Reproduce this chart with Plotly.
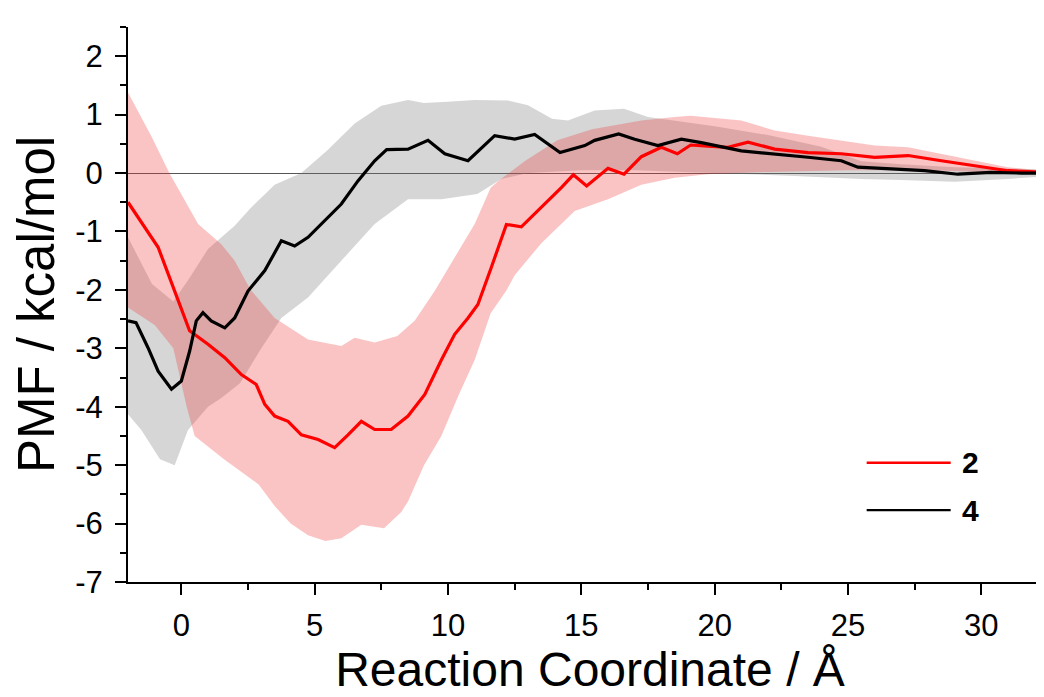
import plotly.graph_objects as go

# ---- data ----
# series "2" (red) mean PMF
x2 = [-2.0, -1.5, -0.87, -0.25, 0.31, 1.0, 1.63, 2.25, 2.81, 3.13, 3.5, 4.0, 4.5, 5.13, 5.75, 6.25,
      6.75, 7.25, 7.87, 8.5, 9.13, 9.75, 10.25, 10.75, 11.12, 11.62, 12.19, 12.75, 13.5, 14.25, 14.7,
      15.2, 16.0, 16.6, 17.25, 18.0, 18.6, 19.1, 19.75, 20.5, 21.25, 22.25, 23.5, 24.75, 26.0, 27.25,
      28.5, 29.75, 31.0, 32.0, 32.65]
y2 = [-0.50, -0.85, -1.27, -2.02, -2.70, -2.93, -3.16, -3.45, -3.62, -3.96, -4.16, -4.25, -4.48, -4.56,
      -4.70, -4.48, -4.25, -4.39, -4.39, -4.16, -3.79, -3.20, -2.76, -2.48, -2.25, -1.62, -0.88, -0.92,
      -0.59, -0.25, -0.03, -0.22, 0.08, -0.02, 0.28, 0.44, 0.33, 0.48, 0.46, 0.44, 0.53, 0.41, 0.35,
      0.33, 0.27, 0.30, 0.21, 0.13, 0.04, 0.02, 0.0]

# series "4" (black) mean PMF
x4 = [-2.0, -1.7, -1.25, -0.87, -0.37, 0.0, 0.31, 0.56, 0.81, 1.12, 1.63, 2.0, 2.5, 3.13, 3.75, 4.25,
      4.75, 5.38, 6.0, 6.63, 7.25, 7.7, 8.5, 9.25, 9.88, 10.75, 11.75, 12.5, 13.25, 14.2, 15.13, 15.5,
      16.4, 17.0, 17.87, 18.75, 19.5, 21.0, 22.25, 23.5, 24.75, 25.37, 26.62, 27.87, 29.12, 30.37,
      31.5, 32.65]
y4 = [-2.53, -2.56, -2.99, -3.39, -3.70, -3.56, -3.05, -2.53, -2.39, -2.53, -2.65, -2.48, -2.02, -1.67,
      -1.16, -1.25, -1.10, -0.82, -0.53, -0.13, 0.21, 0.40, 0.41, 0.56, 0.33, 0.21, 0.64, 0.58, 0.66,
      0.35, 0.47, 0.56, 0.67, 0.58, 0.47, 0.58, 0.52, 0.38, 0.33, 0.27, 0.21, 0.10, 0.07, 0.04, -0.02,
      0.01, 0.0, 0.0]

# error band of series "2"
x2_up = [-2.0, -1.1, -0.45, 0.3, 0.63, 1.5, 2.0, 2.6, 3.5, 4.75, 6.0, 6.5, 7.25, 8.1, 8.75, 9.5, 10.25,
         11.0, 11.6, 11.9, 12.9, 14.1, 15.4, 17.25, 18.5, 19.1, 21.0, 22.25, 23.5, 24.75, 26.0, 27.25,
         28.5, 29.75, 31.0, 32.65]
y2_up = [1.38, 0.61, 0.0, -0.6, -0.87, -1.22, -1.5, -2.0, -2.48, -2.85, -2.96, -2.82, -2.90, -2.79,
         -2.53, -2.02, -1.45, -0.87, -0.25, -0.13, 0.21, 0.56, 0.75, 0.90, 0.96, 0.98, 0.90, 0.73, 0.64,
         0.56, 0.47, 0.44, 0.33, 0.21, 0.10, 0.03]
x2_lo = [-2.0, -1.0, -0.3, 0.2, 0.5, 1.6, 2.9, 3.5, 4.1, 4.75, 5.4, 6.0, 6.75, 7.6, 8.25, 8.5, 9.1,
         9.75, 10.4, 11.0, 11.6, 12.2, 12.5, 13.5, 14.75, 16.0, 17.25, 18.5, 19.75, 22.0, 25.0, 28.0,
         31.0, 32.65]
y2_lo = [-2.3, -2.6, -3.0, -4.0, -4.5, -4.9, -5.33, -5.7, -6.0, -6.2, -6.3, -6.25, -6.02, -6.08, -5.8,
         -5.62, -5.0, -4.5, -3.8, -3.2, -2.4, -2.0, -1.75, -1.2, -0.65, -0.45, -0.2, -0.08, -0.02, 0.02,
         0.05, 0.05, 0.0, -0.02]

# error band of series "4"
x4_up = [-2.0, -1.1, -0.3, 0.3, 1.0, 1.5, 2.0, 2.6, 3.5, 4.5, 5.5, 6.5, 7.5, 8.5, 9.1, 10.0, 11.0,
         12.25, 13.0, 13.9, 14.5, 15.5, 16.6, 17.5, 18.5, 20.0, 22.0, 24.0, 25.5, 27.0, 29.0, 31.0, 32.65]
y4_up = [-1.1, -1.9, -2.2, -1.8, -1.3, -1.1, -0.9, -0.6, -0.2, 0.0, 0.4, 0.85, 1.15, 1.25, 1.2, 1.22,
         1.25, 1.24, 1.16, 0.93, 0.9, 1.07, 1.10, 0.96, 0.9, 0.8, 0.65, 0.45, 0.2, 0.15, 0.1, 0.08, 0.05]
x4_lo = [-2.0, -1.5, -0.8, -0.25, 0.25, 1.0, 1.5, 2.2, 3.0, 3.75, 4.75, 6.0, 7.25, 8.5, 9.75, 11.1,
         12.0, 13.0, 15.0, 17.0, 20.0, 23.0, 25.5, 27.0, 29.0, 31.0, 32.65]
y4_lo = [-4.13, -4.4, -4.9, -5.0, -4.4, -4.0, -3.85, -3.6, -3.0, -2.48, -2.13, -1.5, -0.87, -0.45,
         -0.45, -0.36, -0.1, 0.0, 0.05, 0.05, 0.0, -0.05, -0.1, -0.12, -0.15, -0.1, -0.05]

series_names = ["2", "4"]
x_ticks = [0, 5, 10, 15, 20, 25, 30]
x_tick_text = ["0", "5", "10", "15", "20", "25", "30"]
y_ticks = [-7, -6, -5, -4, -3, -2, -1, 0, 1, 2]
y_tick_text = ["-7", "-6", "-5", "-4", "-3", "-2", "-1", "0", "1", "2"]

FONT = "Liberation Sans, Arial, sans-serif"

fig = go.Figure()

# bands
fig.add_trace(go.Scatter(x=x4_up + x4_lo[::-1], y=y4_up + y4_lo[::-1], fill="toself",
                         fillcolor="rgba(120,120,120,0.30)", line=dict(width=0),
                         hoverinfo="skip", showlegend=False))
fig.add_trace(go.Scatter(x=x2_up + x2_lo[::-1], y=y2_up + y2_lo[::-1], fill="toself",
                         fillcolor="rgba(240,60,60,0.30)", line=dict(width=0),
                         hoverinfo="skip", showlegend=False))

# mean lines
fig.add_trace(go.Scatter(x=x2, y=y2, mode="lines", name=series_names[0],
                         line=dict(color="#ff0000", width=3.2), showlegend=False))
fig.add_trace(go.Scatter(x=x4, y=y4, mode="lines", name=series_names[1],
                         line=dict(color="#000000", width=3.2), showlegend=False))

# legend (drawn manually to match the long line samples)
leg_y = [-4.96, -5.77]
leg_col = ["#ff0000", "#000000"]
for name, yy, col in zip(series_names, leg_y, leg_col):
    fig.add_shape(type="line", xref="x", yref="y", x0=25.7, x1=28.85, y0=yy, y1=yy,
                  line=dict(color=col, width=2.4))
    fig.add_annotation(x=29.2, y=yy, xref="x", yref="y", text="<b>%s</b>" % name,
                       showarrow=False, xanchor="left", yanchor="middle",
                       font=dict(family=FONT, size=30, color="black"))

axis_common = dict(showline=True, linecolor="black", linewidth=2, ticks="outside",
                   ticklen=11, tickwidth=2, tickcolor="black", showgrid=False, mirror=False,
                   tickfont=dict(family=FONT, size=31, color="black"))

fig.update_xaxes(range=[-2.0, 32.65], tickvals=x_ticks, ticktext=x_tick_text,
                 ticklabelstandoff=4,
                 minor=dict(ticks="outside", ticklen=6, tickwidth=2, tickcolor="black", dtick=2.5,
                            tick0=0),
                 zeroline=False,
                 title=dict(text="Reaction Coordinate / Å", standoff=4,
                            font=dict(family=FONT, size=48, color="black")),
                 **axis_common)
fig.update_yaxes(range=[-7, 2.5], tickvals=y_ticks, ticktext=y_tick_text,
                 ticklabelstandoff=6,
                 minor=dict(ticks="outside", ticklen=6, tickwidth=2, tickcolor="black", dtick=0.5,
                            tick0=0),
                 zeroline=True, zerolinecolor="#555555", zerolinewidth=1,
                 title=dict(text="PMF / kcal/mol", standoff=10,
                            font=dict(family=FONT, size=51, color="black")),
                 **axis_common)

fig.update_layout(width=1044, height=697, margin=dict(l=120, r=0, t=19, b=123, autoexpand=False),
                  plot_bgcolor="white", paper_bgcolor="white", font=dict(family=FONT))

fig.write_html("out.html")
